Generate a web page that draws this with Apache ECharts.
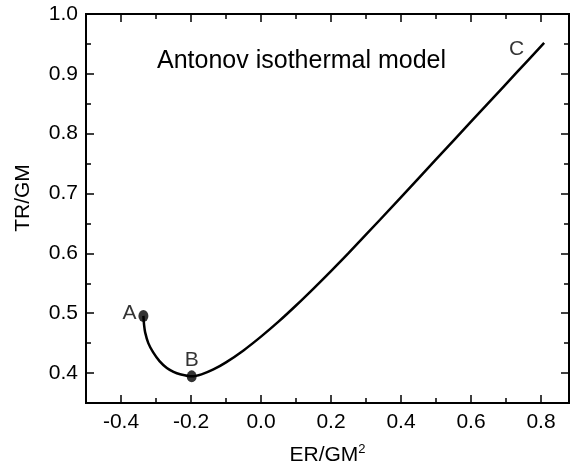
<!DOCTYPE html>
<html>
<head>
<meta charset="utf-8">
<script src="https://cdn.jsdelivr.net/npm/echarts@6/dist/echarts.min.js"></script>
<style>
html,body{margin:0;padding:0;background:#fff;}
#chart{width:571px;height:471px;}
</style>
</head>
<body>
<div id="chart"></div>
<script>
// ---- data ----
var curveER = [-0.336, -0.334, -0.331, -0.322, -0.308, -0.290, -0.269, -0.250, -0.231, -0.198, -0.170, -0.136, -0.100, -0.050, 0.000, 0.050, 0.100, 0.150, 0.200, 0.250, 0.340, 0.450, 0.550, 0.650, 0.730, 0.809];
var curveTR = [0.4955, 0.480, 0.468, 0.450, 0.4345, 0.420, 0.4085, 0.402, 0.398, 0.3945, 0.3979, 0.4061, 0.4179, 0.4379, 0.4609, 0.4859, 0.5129, 0.5412, 0.5704, 0.6004, 0.6562, 0.7255, 0.7885, 0.8515, 0.9019, 0.9517];
var pointLabels = ['A', 'B', 'C'];
var pointER = [-0.336, -0.198, 0.809];
var pointTR = [0.4955, 0.3945, 0.952];
var xMajorTicks = [-0.4, -0.2, 0.0, 0.2, 0.4, 0.6, 0.8];
var xMinorTicks = [-0.3, -0.1, 0.1, 0.3, 0.5, 0.7];
var yMajorTicks = [0.4, 0.5, 0.6, 0.7, 0.8, 0.9, 1.0];
var yMinorTicks = [0.45, 0.55, 0.65, 0.75, 0.85, 0.95];
var titleText = 'Antonov isothermal model';
var xName = 'ER/GM';
var xNameSup = '2';
var yName = 'TR/GM';

// ---- chart ----
var FONT = 'Liberation Sans, Arial, Helvetica, sans-serif';
var X_MIN = -0.5, X_MAX = 0.88, Y_MIN = 0.35, Y_MAX = 1.0;

function fmt(v) { return Number(v).toFixed(1); }

function xAxisDef(pos, ticks, len, opts) {
  var a = {
    type: 'value', position: pos, min: X_MIN, max: X_MAX,
    splitLine: { show: false },
    axisLine: { show: true, onZero: false, lineStyle: { color: '#000', width: 2 } },
    axisTick: { show: true, inside: true, length: len, customValues: ticks, lineStyle: { color: '#000', width: 1.5 } },
    axisLabel: { show: false }
  };
  return Object.assign(a, opts || {});
}
function yAxisDef(pos, ticks, len, opts) {
  var a = {
    type: 'value', position: pos, min: Y_MIN, max: Y_MAX,
    splitLine: { show: false },
    axisLine: { show: true, onZero: false, lineStyle: { color: '#000', width: 2 } },
    axisTick: { show: true, inside: true, length: len, customValues: ticks, lineStyle: { color: '#000', width: 1.5 } },
    axisLabel: { show: false }
  };
  return Object.assign(a, opts || {});
}

var chart = echarts.init(document.getElementById('chart'), null, { renderer: 'canvas' });

var lineData = curveER.map(function (x, i) { return [x, curveTR[i]]; });
var labelCfg = [
  { position: 'left', distance: 2, offset: [0, -3] },
  { position: 'top', distance: 2, offset: [0, 2] },
  { position: 'left', distance: 20, offset: [0, 6] }
];
var pointData = pointER.map(function (x, i) {
  return {
    value: [x, pointTR[i]],
    name: pointLabels[i],
    symbolSize: i === 2 ? 0 : [10, 12],
    label: Object.assign({ show: true, formatter: pointLabels[i], color: '#000', fontFamily: FONT, fontSize: 21 }, labelCfg[i])
  };
});

var option = {
  backgroundColor: '#fff',
  animation: false,
  title: {
    text: titleText, left: 157, top: 49, padding: 0,
    textStyle: { fontFamily: FONT, fontSize: 25, fontWeight: 'normal', color: '#000' }
  },
  grid: { left: 86, right: 2, top: 14, bottom: 67, containLabel: false },
  xAxis: [
    xAxisDef('bottom', xMajorTicks, 8, {
      name: '{a|' + xName + '}{s|' + xNameSup + '}',
      nameLocation: 'middle', nameGap: 40,
      nameTextStyle: {
        rich: {
          a: { fontFamily: FONT, fontSize: 21, color: '#000', lineHeight: 24 },
          s: { fontFamily: FONT, fontSize: 13, color: '#000', verticalAlign: 'top', lineHeight: 24, padding: [0, 0, 10, 0] }
        }
      },
      axisLabel: {
        show: true, customValues: xMajorTicks, margin: 9, formatter: fmt,
        fontFamily: FONT, fontSize: 21, color: '#000'
      }
    }),
    xAxisDef('bottom', xMinorTicks, 5),
    xAxisDef('top', xMajorTicks, 8),
    xAxisDef('top', xMinorTicks, 5)
  ],
  yAxis: [
    yAxisDef('left', yMajorTicks, 8, {
      name: yName, nameLocation: 'middle', nameGap: 52,
      nameTextStyle: { fontFamily: FONT, fontSize: 21, color: '#000', padding: [0, 0, 0, 21] },
      axisLabel: {
        show: true, customValues: yMajorTicks, margin: 8, formatter: fmt,
        fontFamily: FONT, fontSize: 21, color: '#000'
      }
    }),
    yAxisDef('left', yMinorTicks, 5),
    yAxisDef('right', yMajorTicks, 8),
    yAxisDef('right', yMinorTicks, 5)
  ],
  series: [
    {
      type: 'line', xAxisIndex: 0, yAxisIndex: 0,
      data: lineData, smooth: 0.3, showSymbol: false,
      lineStyle: { color: '#000', width: 2.5 }
    },
    {
      type: 'scatter', xAxisIndex: 0, yAxisIndex: 0,
      data: pointData, symbol: 'circle',
      itemStyle: { color: '#000' },
      label: { fontFamily: FONT, fontSize: 21, color: '#000' }
    }
  ]
};
chart.setOption(option);
</script>
</body>
</html>
